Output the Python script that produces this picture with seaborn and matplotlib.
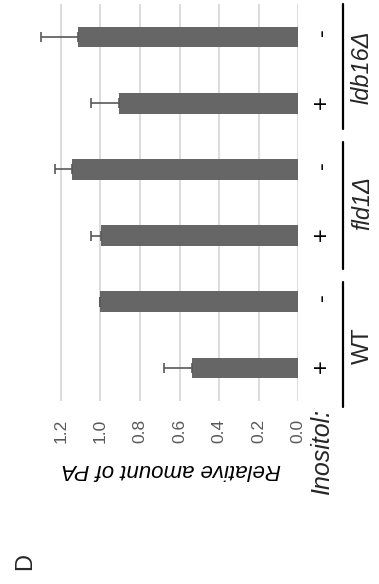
import numpy as np
import pandas as pd
import matplotlib
matplotlib.use("Agg")
import matplotlib.pyplot as plt
import seaborn as sns

# ---- data ----
groups = ["WT", "WT", "fld1Δ", "fld1Δ", "ldb16Δ", "ldb16Δ"]
inositol = ["+", "-", "+", "-", "+", "-"]
values = [0.535, 1.0, 0.995, 1.143, 0.904, 1.114]
errors = [0.142, 0.0, 0.05, 0.086, 0.143, 0.187]
xticks = [0.0, 0.2, 0.4, 0.6, 0.8, 1.0, 1.2]
group_names = ["WT", "fld1Δ", "ldb16Δ"]
group_styles = ["normal", "italic", "italic"]

sns.set_style("white")
plt.rcParams["font.family"] = ["Liberation Sans", "DejaVu Sans"]

W, H = 379, 584
fig = plt.figure(figsize=(W / 100, H / 100), dpi=100)

def fx(px):
    return px / W

def fy(py):
    return 1 - py / H

ax_left, ax_right, ax_top, ax_bot = 31.0, 298.3, 4.2, 400.8
ax = fig.add_axes([fx(ax_left), fy(ax_bot), (ax_right - ax_left) / W, (ax_bot - ax_top) / H])

conds = [f"{g} {s}" for g, s in zip(groups, inositol)]
df = pd.DataFrame({"condition": conds, "value": values})
sns.barplot(data=df, x="value", y="condition", order=conds, orient="h",
            color="#666666", saturation=1, width=0.31, errorbar=None, linewidth=0, ax=ax)
ax.set_ylim(-0.5, 5.5)
ax.set_xlim(1.35, 0)

ax.errorbar(values, np.arange(len(values)), xerr=[np.zeros(len(values)), errors],
            fmt="none", ecolor="#595959", elinewidth=1.2, capsize=3.5, capthick=1.2, zorder=3)

# value axis
ax.set_xticks(xticks)
ax.set_xticklabels([f"{t:.1f}" for t in xticks])
ax.xaxis.grid(True, color="#d9d9d9", lw=1.3)
ax.yaxis.grid(False)
ax.set_axisbelow(True)
for s in ax.spines.values():
    s.set_visible(False)
ax.tick_params(axis="x", length=0, pad=13, labelrotation=90, labelcolor="#595959", labelsize=12.5)

# category axis (inositol signs)
ax.yaxis.tick_right()
ax.set_yticks(range(len(inositol)))
ax.set_yticklabels(inositol)
ax.tick_params(axis="y", length=0, pad=9, labelrotation=90, labelsize=17, labelcolor="black")
ax.set_ylabel("")

ax.set_xlabel("Relative amount of PA", rotation=180, fontstyle="italic", fontsize=16, color="black")
ax.xaxis.set_label_coords((171 - ax_left) / (ax_right - ax_left), (ax_bot - 470) / (ax_bot - ax_top))
ax.xaxis.label.set_va("center")

# group lines and names
trans = ax.get_yaxis_transform()
line_x = (343.3 - ax_left) / (ax_right - ax_left)
label_x = (362.5 - ax_left) / (ax_right - ax_left)
spans = [(-0.60, 1.30), (1.50, 3.42), (3.61, 5.51)]
label_pos = [0.34, 2.5, 4.55]
for (a, b), name, st, yp in zip(spans, group_names, group_styles, label_pos):
    ax.plot([line_x, line_x], [a, b], color="black", lw=1.6, transform=trans, clip_on=False)
    ax.text(label_x, yp, name, rotation=90, fontsize=17, fontstyle=st, ha="center", va="center",
            transform=trans, clip_on=False)

fig.text(fx(321.7), fy(451.5), "Inositol:", rotation=90, fontsize=18, fontstyle="italic",
         ha="center", va="center")
fig.text(fx(25), fy(561.5), "D", rotation=90, fontsize=17, ha="center", va="center")

fig.savefig("out.png", dpi=100)
